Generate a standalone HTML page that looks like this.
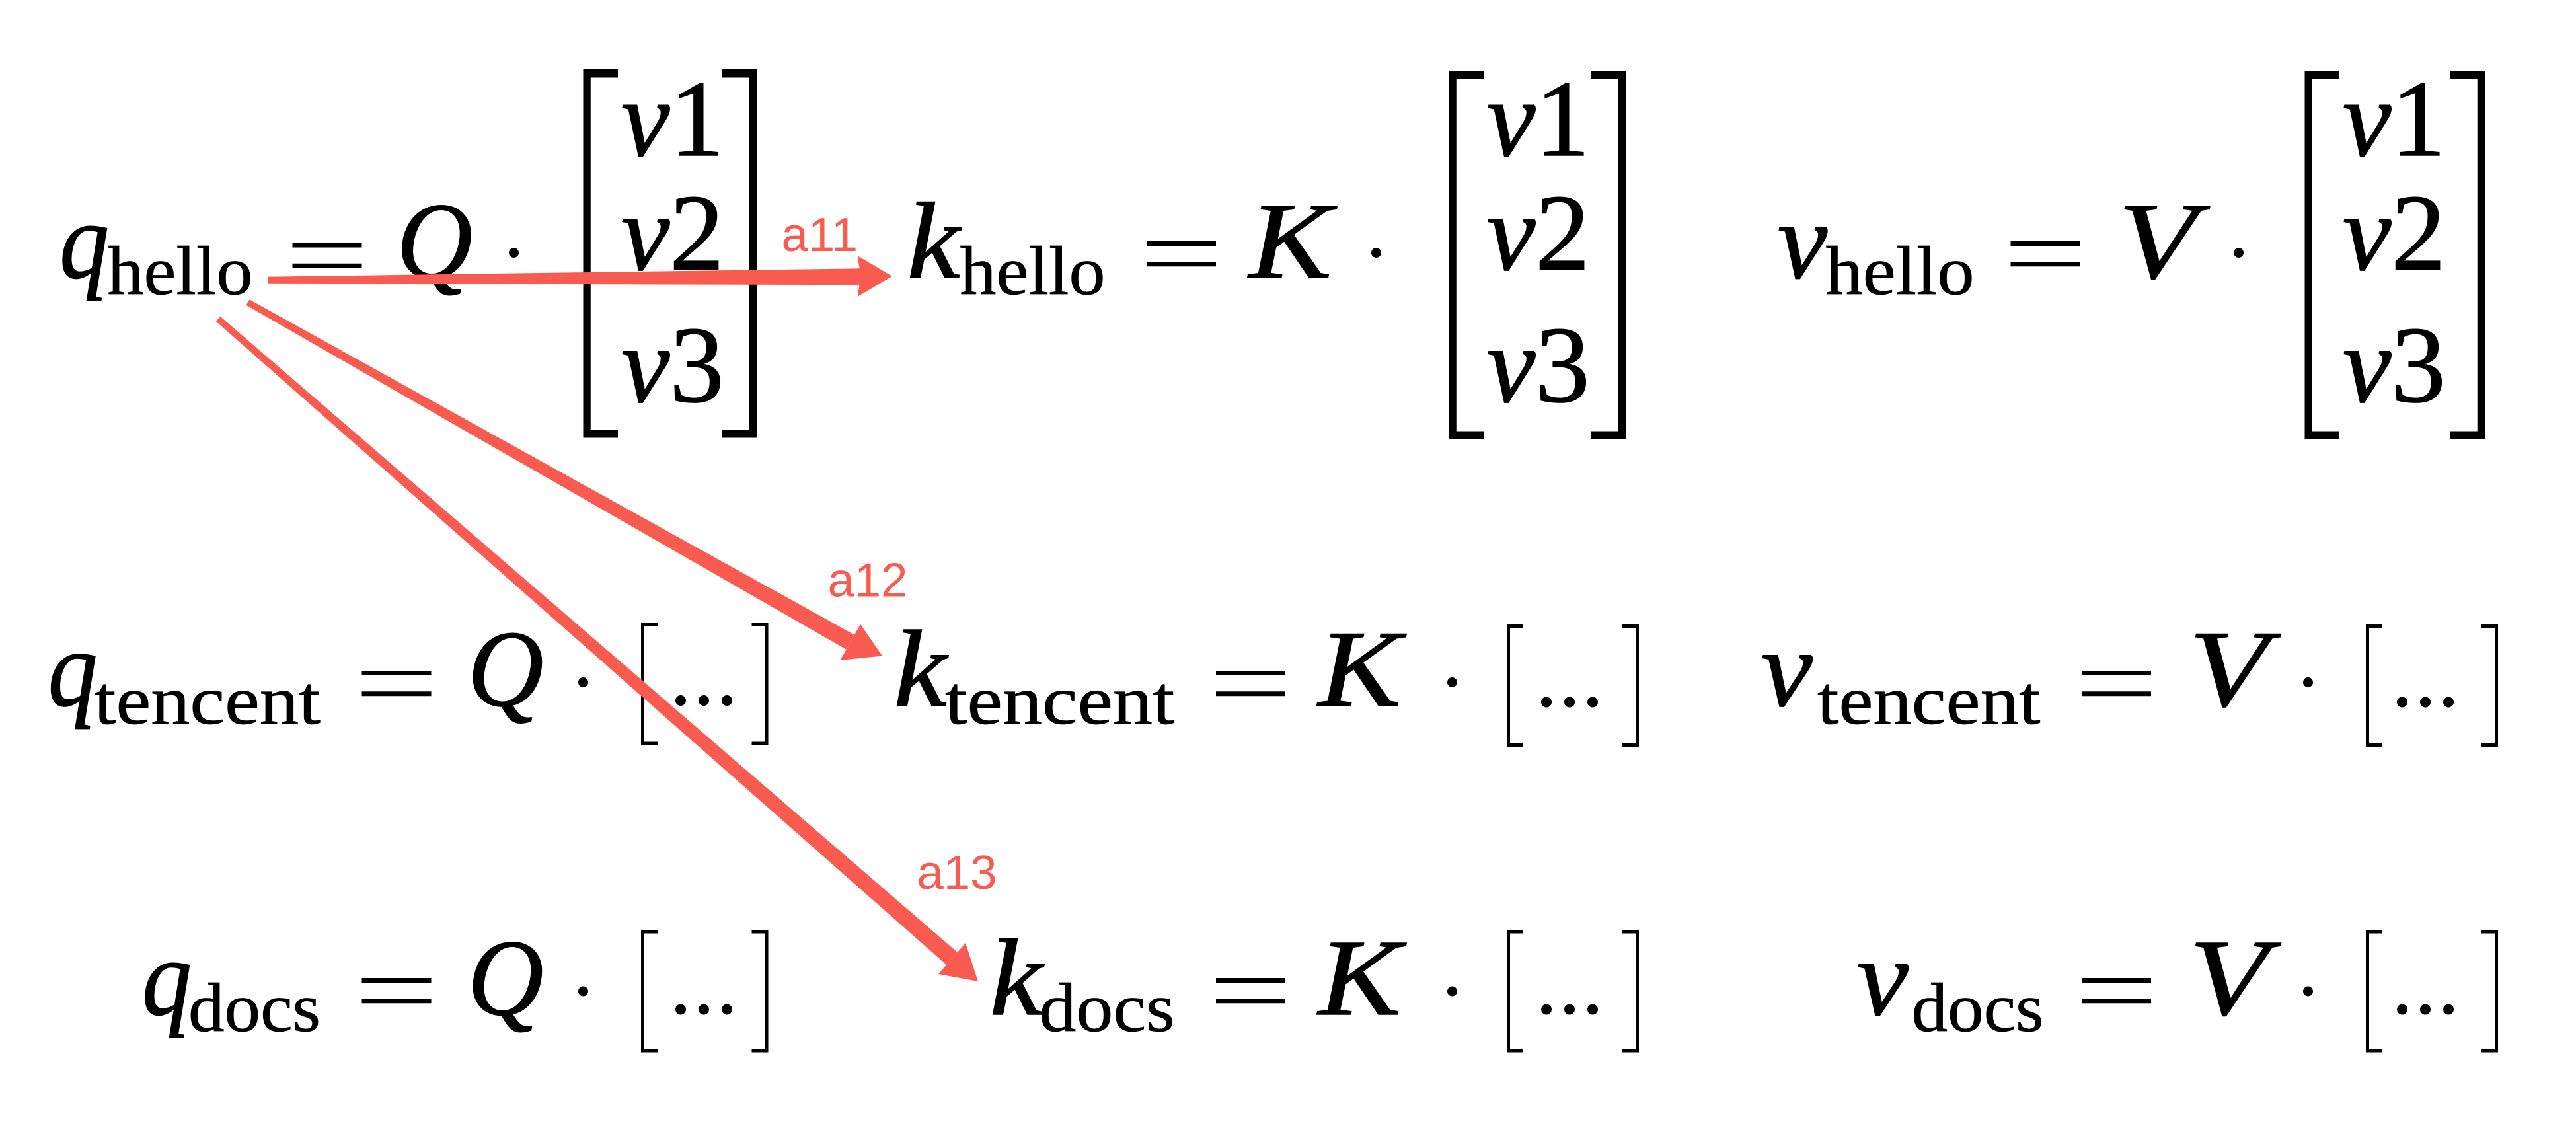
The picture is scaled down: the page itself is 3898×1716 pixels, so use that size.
<!DOCTYPE html>
<html><head><meta charset="utf-8"><style>
html,body{margin:0;padding:0;background:#fff;}
svg{display:block;}
.m{font-family:"Liberation Serif",serif;font-style:italic;font-size:66px;fill:#000;stroke:#000;stroke-width:0.6px;}
.s{font-family:"Liberation Serif",serif;font-style:normal;font-size:42px;fill:#000;stroke:#000;stroke-width:0.3px;}
.n{font-style:normal;}
.l{font-family:"Liberation Sans",sans-serif;font-size:29px;fill:#F95B50;}
</style></head><body>
<svg width="3898" height="1716" viewBox="0 0 1559.2 686.4" xmlns="http://www.w3.org/2000/svg">
<defs>
<g id="eq"><rect x="0" y="0" width="42" height="2.8"/><rect x="0" y="12.5" width="42" height="2.8"/></g>
<g id="bigL"><path d="M0 0H21V5H4.5V218H21V223H0Z"/></g>
<g id="bigR"><path d="M0 0H21V223H0V218H16.5V5H0Z"/></g>
<g id="smL"><path d="M0 0H10V2H2V72H10V74H0Z"/></g>
<g id="smR"><path d="M0 0H10V74H0V72H8V2H0Z"/></g>
<g id="dots"><circle cx="3" cy="0" r="3.2"/><circle cx="17" cy="0" r="3.2"/><circle cx="31" cy="0" r="3.2"/></g>
</defs>

<!-- Row 1 -->
<text class="m" x="36" y="168" textLength="30" lengthAdjust="spacingAndGlyphs">q</text>
<text class="s" x="65" y="178" textLength="88" lengthAdjust="spacingAndGlyphs">hello</text>
<use href="#eq" x="177" y="147"/>
<text class="m" x="240" y="168" textLength="46" lengthAdjust="spacingAndGlyphs">Q</text>
<circle cx="311" cy="153" r="3"/>
<use href="#bigL" x="353" y="42"/>
<use href="#bigR" x="437" y="42"/>
<text class="m" x="376" y="94">v<tspan class="n">1</tspan></text>
<text class="m" x="376" y="163">v<tspan class="n">2</tspan></text>
<text class="m" x="376" y="243">v<tspan class="n">3</tspan></text>

<text class="m" x="549" y="168" textLength="32" lengthAdjust="spacingAndGlyphs">k</text>
<text class="s" x="581" y="178" textLength="88" lengthAdjust="spacingAndGlyphs">hello</text>
<use href="#eq" x="694" y="146"/>
<text class="m" x="756" y="168" textLength="50" lengthAdjust="spacingAndGlyphs">K</text>
<circle cx="833" cy="153" r="3"/>
<use href="#bigL" x="877" y="43"/>
<use href="#bigR" x="963" y="43"/>
<text class="m" x="900" y="94">v<tspan class="n">1</tspan></text>
<text class="m" x="900" y="163">v<tspan class="n">2</tspan></text>
<text class="m" x="900" y="243">v<tspan class="n">3</tspan></text>

<text class="m" x="1076" y="168" textLength="30" lengthAdjust="spacingAndGlyphs">v</text>
<text class="s" x="1105" y="178" textLength="90" lengthAdjust="spacingAndGlyphs">hello</text>
<use href="#eq" x="1217" y="146"/>
<text class="m" x="1282" y="168" textLength="48" lengthAdjust="spacingAndGlyphs">V</text>
<circle cx="1355" cy="153" r="3"/>
<use href="#bigL" x="1395" y="43"/>
<use href="#bigR" x="1483" y="43"/>
<text class="m" x="1418" y="94">v<tspan class="n">1</tspan></text>
<text class="m" x="1418" y="163">v<tspan class="n">2</tspan></text>
<text class="m" x="1418" y="243">v<tspan class="n">3</tspan></text>

<!-- Row 2 -->
<text class="m" x="29" y="427" textLength="30" lengthAdjust="spacingAndGlyphs">q</text>
<text class="s" x="57" y="438" textLength="137" lengthAdjust="spacingAndGlyphs">tencent</text>
<use href="#eq" x="219" y="406"/>
<text class="m" x="283" y="427" textLength="46" lengthAdjust="spacingAndGlyphs">Q</text>
<circle cx="353" cy="413" r="3"/>
<use href="#smL" x="388" y="377"/><use href="#smR" x="455" y="377"/>
<use href="#dots" x="409" y="424"/>

<text class="m" x="541" y="427" textLength="32" lengthAdjust="spacingAndGlyphs">k</text>
<text class="s" x="572" y="438" textLength="139" lengthAdjust="spacingAndGlyphs">tencent</text>
<use href="#eq" x="736" y="406"/>
<text class="m" x="798" y="427" textLength="50" lengthAdjust="spacingAndGlyphs">K</text>
<circle cx="879" cy="413" r="3"/>
<use href="#smL" x="912" y="378"/><use href="#smR" x="982" y="378"/>
<use href="#dots" x="933" y="425"/>

<text class="m" x="1066" y="427" textLength="31" lengthAdjust="spacingAndGlyphs">v</text>
<text class="s" x="1100" y="438" textLength="135" lengthAdjust="spacingAndGlyphs">tencent</text>
<use href="#eq" x="1260" y="406"/>
<text class="m" x="1325" y="427" textLength="48" lengthAdjust="spacingAndGlyphs">V</text>
<circle cx="1397" cy="413" r="3"/>
<use href="#smL" x="1432" y="378"/><use href="#smR" x="1502" y="378"/>
<use href="#dots" x="1451" y="425"/>

<!-- Row 3 -->
<text class="m" x="86" y="614" textLength="30" lengthAdjust="spacingAndGlyphs">q</text>
<text class="s" x="114" y="624" textLength="80" lengthAdjust="spacingAndGlyphs">docs</text>
<use href="#eq" x="219" y="592"/>
<text class="m" x="283" y="614" textLength="46" lengthAdjust="spacingAndGlyphs">Q</text>
<circle cx="353" cy="600" r="3"/>
<use href="#smL" x="388" y="563"/><use href="#smR" x="455" y="563"/>
<use href="#dots" x="409" y="611"/>

<text class="m" x="599" y="614" textLength="32" lengthAdjust="spacingAndGlyphs">k</text>
<text class="s" x="629" y="624" textLength="82" lengthAdjust="spacingAndGlyphs">docs</text>
<use href="#eq" x="736" y="592"/>
<text class="m" x="798" y="614" textLength="50" lengthAdjust="spacingAndGlyphs">K</text>
<circle cx="879" cy="600" r="3"/>
<use href="#smL" x="912" y="563"/><use href="#smR" x="982" y="563"/>
<use href="#dots" x="933" y="611"/>

<text class="m" x="1124" y="614" textLength="31" lengthAdjust="spacingAndGlyphs">v</text>
<text class="s" x="1157" y="624" textLength="80" lengthAdjust="spacingAndGlyphs">docs</text>
<use href="#eq" x="1260" y="592"/>
<text class="m" x="1325" y="614" textLength="48" lengthAdjust="spacingAndGlyphs">V</text>
<circle cx="1397" cy="600" r="3"/>
<use href="#smL" x="1432" y="563"/><use href="#smR" x="1502" y="563"/>
<use href="#dots" x="1451" y="611"/>

<!-- Arrows -->
<g fill="#F95B50">
<polygon points="162,167.5 521,162.5 521,172.5 162,171.5"/>
<polygon points="519,154.8 540,167.2 519,179.6 521,167.2"/>
<polygon points="149.0,184.7 151.0,181.3 517.2,384.3 512.2,393.1"/>
<polygon points="508.6,399.6 534,397 520.8,377.8 514.7,388.7"/>
<polygon points="130.7,194.5 133.3,191.5 579.5,576.4 572.9,584.0"/>
<polygon points="568.0,589.6 592,594 584.4,570.8 576.2,580.2"/>
</g>
<text class="l" x="473" y="152">a11</text>
<text class="l" x="501" y="361">a12</text>
<text class="l" x="555" y="538">a13</text>
</svg>
</body></html>
